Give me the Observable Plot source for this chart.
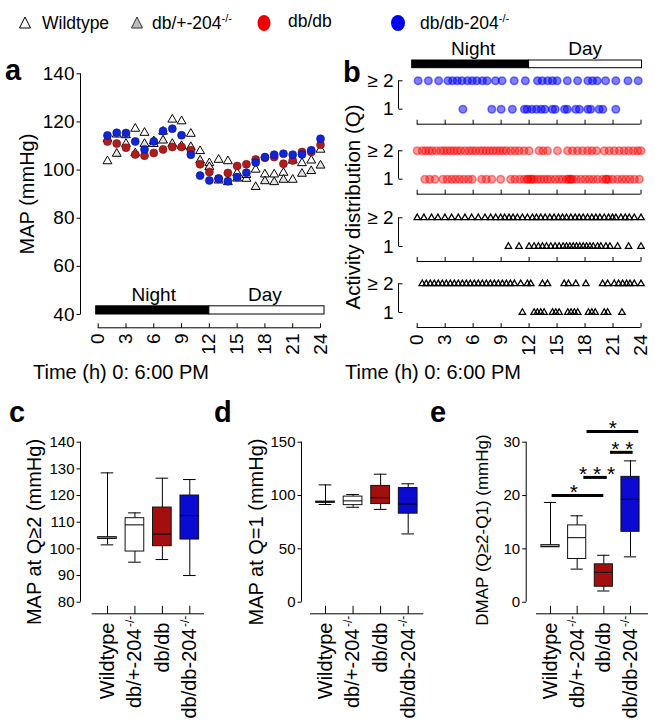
<!DOCTYPE html>
<html><head><meta charset="utf-8">
<script src="https://cdn.jsdelivr.net/npm/d3@7"></script>
<script src="https://cdn.jsdelivr.net/npm/@observablehq/plot@0.6"></script>
<style>
body{margin:0;background:#fff;}
#page{position:relative;width:655px;height:723px;overflow:hidden;background:#fff;}
</style></head><body><div id="page"></div>
<script>
// ---------------- DATA ----------------
const groups = ["Wildtype", "db/+-204", "db/db", "db/db-204"];
const groupSup = ["", "-/-", "", "-/-"];
const groupIdx = [0, 1, 2, 3];

// Panel a: hourly MAP (mmHg)
const hours = [1,2,3,4,5,6,7,8,9,10,11,12,13,14,15,16,17,18,19,20,21,22,23,24];
const mapWT    = [103.7,114.8,110.9,117.2,115.5,110.9,116.0,121.0,120.3,115.1,107.9,102.9,104.3,103.7,98.8,96.4,100.2,98.2,98.2,98.9,96.0,102.9,104.0,108.5];
const mapDbp   = [113.0,106.8,114.5,107.0,110.9,112.0,112.3,110.9,110.0,109.6,104.0,101.3,95.7,95.0,96.5,98.0,93.0,95.4,95.0,96.0,104.0,98.5,99.6,101.9];
const mapDb    = [111.9,111.0,109.3,106.5,106.0,107.1,108.6,109.6,109.6,108.2,102.4,99.2,96.5,98.8,101.7,102.4,104.4,105.1,105.4,102.6,104.0,107.5,107.5,110.5];
const mapDb204 = [114.4,115.5,115.4,111.9,108.6,111.9,116.2,117.2,114.5,106.4,97.7,95.7,96.4,95.4,97.1,98.9,103.1,105.4,106.4,106.8,106.4,106.5,108.2,113.0];
const mapTicks = [40,60,80,100,120,140];
const timeTicks = [0,3,6,9,12,15,18,21,24];
const nightDay = [{label:"Night", start:0, end:12}, {label:"Day", start:12, end:24}];

// Panel b: times (h) of activity events, Q>=2 and Q=1
const actDb204Q2 = [0.1,1.2,2.3,3.3,3.8,4.3,4.8,5.4,5.9,6.4,7.0,7.5,8.4,9.1,10.4,11.6,12.9,13.4,14.0,14.5,15.0,16.1,17.2,18.3,18.8,19.3,20.2,21.3,22.6,23.7];
const actDb204Q1 = [4.9,8.0,9.0,10.2,11.5,11.8,12.3,12.8,13.3,13.7,14.5,14.8,15.8,16.1,17.0,17.4,18.3,18.6,19.5,19.9,21.3];
const actDbQ2 = [0.0,0.54,0.9,1.25,1.6,2.04,2.51,2.87,3.22,3.58,3.94,4.3,4.66,5.12,5.55,5.91,6.27,6.7,7.06,7.41,7.77,8.13,8.49,8.85,9.2,9.56,10.03,10.49,10.92,11.46,12.0,13.07,13.5,13.97,15.04,16.12,16.65,17.19,17.73,18.27,18.73,19.23,20.06,20.59,21.13,21.67,22.2,22.67,23.17,23.64,24.0];
const actDbQ1 = [0.82,1.33,1.9,2.76,3.22,3.69,4.12,4.55,5.01,5.48,5.91,6.91,7.41,7.99,8.95,10.03,10.49,11.0,11.46,11.82,11.9,12.18,12.3,12.54,12.89,13.25,13.61,13.97,14.33,14.8,15.22,15.58,16.01,16.2,16.37,16.5,16.66,17.08,17.55,18.02,18.45,18.88,19.34,19.88,20.24,20.3,20.52,20.95,21.49,21.96,22.39,22.82,23.28,23.82];
const actWtQ2 = [0.0,0.72,1.54,2.22,2.97,3.69,4.41,5.12,5.84,6.55,7.27,7.88,8.42,8.95,9.38,9.85,10.28,10.74,11.28,11.82,12.36,12.79,13.25,13.72,14.22,14.68,15.15,15.58,16.01,16.48,16.94,17.37,17.8,18.27,18.73,19.16,19.59,20.06,20.52,20.95,21.31,21.85,22.31,22.74,23.28,24.0];
const actWtQ1 = [9.78,10.92,12.0,12.54,13.0,13.43,13.86,14.33,14.79,15.22,15.65,16.01,16.37,16.73,17.08,17.44,17.8,18.16,18.52,18.88,19.34,19.7,20.24,20.67,21.49,22.67,24.0];
const actDbpQ2 = [0.54,0.97,1.4,1.83,2.26,2.69,3.12,3.55,3.98,4.41,4.84,5.27,5.69,6.12,6.55,6.98,7.41,7.84,8.27,8.7,9.13,9.56,9.99,10.42,11.1,11.82,12.18,13.43,13.97,15.76,16.22,17.01,18.09,19.88,20.42,21.13,21.6,22.03,22.46,22.82,23.28,24.0];
const actDbpQ1 = [11.28,12.54,12.89,13.25,13.61,14.51,14.86,15.22,16.15,16.5,16.86,17.22,18.37,18.73,19.09,20.06,20.42,21.96];

// Panel c: MAP at Q>=2
const cLow  = [101.5, 95.0, 96.0, 90.0];
const cQ1   = [103.8, 99.0, 101.0, 103.5];
const cMed  = [104.0, 109.0, 105.5, 112.5];
const cQ3   = [104.4, 111.5, 115.5, 120.0];
const cHigh = [128.5, 113.5, 126.5, 126.0];
const cTicks = [80,90,100,110,120,130,140];
// Panel d: MAP at Q=1
const dLow  = [91.6, 89.0, 87.0, 64.0];
const dQ1   = [93.3, 91.0, 92.0, 83.0];
const dMed  = [93.8, 95.0, 98.0, 92.0];
const dQ3   = [94.3, 99.0, 109.0, 107.0];
const dHigh = [110.0, 101.0, 120.0, 111.0];
const dTicks = [0,50,100,150];
// Panel e: DMAP (Q>=2 - Q1)
const eLow  = [10.5, 6.2, 2.1, 8.5];
const eQ1   = [10.3, 8.1, 2.9, 13.2];
const eMed  = [10.5, 12.1, 5.6, 19.3];
const eQ3   = [10.7, 14.4, 7.1, 23.5];
const eHigh = [18.7, 16.2, 8.8, 26.5];
const eTicks = [0,10,20,30];
// significance bars in panel e (x in group index units)
const sigY  = [20, 23.4, 28.1, 32];
const sigX1 = [0.06, 1.25, 2.25, 1.37];
const sigX2 = [2.0, 2.13, 3.1, 3.31];
const sigStarX = [0.88, 1.75, 2.69, 2.34];
const sigLabel = ["*", "* * *", "* *", "*"];

// ---------------- STYLE / HELPERS ----------------
const FONT = "'Liberation Sans', Arial, Helvetica, sans-serif";
const RED_A = "#b01c1c", BLUE_A = "#1025d4";
const boxFill = ["white", "white", "#a30f0f", "#0a0ad2"];
const page = document.getElementById("page");

function lin(d0, d1, r0, r1) { return {type: "linear", domain: [d0, d1], range: [r0, r1], axis: null}; }
function inv(s, p) { return s.domain[0] + (p - s.range[0]) * (s.domain[1] - s.domain[0]) / (s.range[1] - s.range[0]); }
const seg = (dx, dy) => ({draw(ctx) { ctx.moveTo(0, 0); ctx.lineTo(dx, dy); }});
const TICK = {fill: "none", stroke: "black", strokeWidth: 1, r: 3};

function mount(opts) {
  const svg = Plot.plot({width: 655, height: 723, marginTop: 0, marginRight: 0, marginBottom: 0, marginLeft: 0,
    style: {background: "transparent", fontFamily: FONT, overflow: "visible"}, ...opts});
  svg.style.position = "absolute"; svg.style.left = "0px"; svg.style.top = "0px";
  page.appendChild(svg);
}

function yAxis(xs, ys, ticks, axisPx, len, fontSize) {
  const ax = inv(xs, axisPx);
  return [
    Plot.ruleX([ax], {y1: ys.domain[0], y2: ys.domain[1], stroke: "black"}),
    Plot.dot(ticks, {x: ax, y: d => d, symbol: seg(-len, 0), ...TICK}),
    Plot.text(ticks, {x: ax, y: d => d, text: d => String(d), dx: -(len + 2), textAnchor: "end", fontSize})
  ];
}

// ---------------- PANEL a ----------------
{
  const x = lin(0, 24, 97.7, 320), y = lin(40, 140, 314, 73.3);
  mount({x, y, marks: [
    ...yAxis(x, y, mapTicks, 80, 4, 19),
    Plot.ruleY([40], {x1: 0, x2: 24, dy: 13.3, stroke: "black"}),
    Plot.dot(timeTicks, {x: d => d, y: 40, dy: 13.3, symbol: seg(0, -4.5), ...TICK}),
    Plot.text(timeTicks, {x: d => d, y: 40, dy: 19, rotate: -90, textAnchor: "end", text: d => String(d), fontSize: 19}),
    Plot.rect([nightDay[0]], {x1: "start", x2: "end", y1: 40, y2: 43.4, fill: "black", stroke: "black", insetLeft: -2}),
    Plot.rect([nightDay[1]], {x1: "start", x2: "end", y1: 40, y2: 43.4, fill: "white", stroke: "black", insetRight: -4}),
    Plot.text(nightDay, {x: d => (d.start + d.end) / 2, y: 43.4, dy: -11, text: "label", fontSize: 19}),
    Plot.dot(hours, {x: d => d, y: (d, i) => mapWT[i], symbol: "triangle", r: 3.3, fill: "white", stroke: "black", strokeWidth: 1}),
    Plot.dot(hours, {x: d => d, y: (d, i) => mapDbp[i], symbol: "triangle", r: 3.3, fill: "#e4e4e4", stroke: "black", strokeWidth: 1}),
    Plot.dot(hours, {x: d => d, y: (d, i) => mapDb[i], r: 4, fill: RED_A, stroke: "#7a0a0a", strokeWidth: 0.6}),
    Plot.dot(hours, {x: d => d, y: (d, i) => mapDb204[i], r: 4, fill: BLUE_A, stroke: "#0a1090", strokeWidth: 0.6})
  ]});
}

// ---------------- PANEL b ----------------
{
  const x = lin(0, 24, 416.7, 640.5);
  const yb = lin(0, 1, 67.7, 60);
  mount({x, y: yb, marks: [
    Plot.rect([nightDay[0]], {x1: "start", x2: "end", y1: 0, y2: 1, fill: "black", stroke: "black", insetLeft: -5}),
    Plot.rect([nightDay[1]], {x1: "start", x2: "end", y1: 0, y2: 1, fill: "white", stroke: "black", insetRight: -1}),
    Plot.text(nightDay, {x: d => (d.start + d.end) / 2, y: 1, dy: -11.5, text: "label", fontSize: 19})
  ]});
  const blueDot = {r: 3.8, fill: "#0000ff", fillOpacity: 0.5, stroke: "#0000ff", strokeOpacity: 0.5};
  const redDot = {r: 3.8, fill: "#ff0000", fillOpacity: 0.38, stroke: "#ff0000", strokeOpacity: 0.45};
  const triDot = {symbol: "triangle", r: 2.4, fill: "none", stroke: "black", strokeWidth: 1.25};
  const strips = [
    {rows: [80.3, 108.7], q2: actDb204Q2, q1: actDb204Q1, st: blueDot},
    {rows: [150.3, 178.7], q2: actDbQ2, q1: actDbQ1, st: redDot},
    {rows: [217.3, 246], q2: actWtQ2, q1: actWtQ1, st: triDot},
    {rows: [283.3, 312], q2: actDbpQ2, q1: actDbpQ1, st: triDot}
  ];
  strips.forEach((s, k) => {
    const y = lin(1, 2, s.rows[1], s.rows[0]);
    const ax = inv(x, 398);
    const marks = [
      Plot.ruleX([ax], {y1: 1, y2: 2, stroke: "black"}),
      Plot.dot([1, 2], {x: ax, y: d => d, symbol: seg(4, 0), ...TICK}),
      Plot.text([2, 1], {x: ax, y: d => d, text: d => d === 2 ? "\u2265 2" : "1", dx: -5, textAnchor: "end", fontSize: 19}),
      Plot.ruleY([1], {x1: 0, x2: 24, dy: 15, stroke: "black"}),
      Plot.dot(timeTicks, {x: d => d, y: 1, dy: 15, symbol: seg(0, -4.5), ...TICK}),
      Plot.dot(s.q2, {x: d => d, y: 2, ...s.st}),
      Plot.dot(s.q1, {x: d => d, y: 1, ...s.st})
    ];
    if (k === strips.length - 1) marks.push(Plot.text(timeTicks, {x: d => d, y: 1, dy: 22, rotate: -90, textAnchor: "end", text: d => String(d), fontSize: 19}));
    mount({x, y, marks});
  });
}

// ---------------- PANELS c, d, e ----------------
function boxPanel(x, y, low, q1, med, q3, high, ticks, axisPx, baseX1, baseX2, extra = []) {
  const bw = 0.34, cw = 0.23, base = y.domain[0];
  mount({x, y, marks: [
    ...yAxis(x, y, ticks, axisPx, 4, 15),
    Plot.ruleY([base], {x1: inv(x, baseX1), x2: inv(x, baseX2), dy: 11.6, stroke: "black"}),
    Plot.dot(groupIdx, {x: i => i, y: base, dy: 11.6, symbol: seg(0, -8), ...TICK}),
    Plot.text(groupIdx, {x: i => i, y: base, text: i => groups[i], filter: i => !groupSup[i], rotate: -90, textAnchor: "end", fontSize: 20, dy: 20.3}),
    Plot.text(groupIdx, {x: i => i, y: base, text: i => groups[i], filter: i => groupSup[i], rotate: -90, textAnchor: "end", fontSize: 20, dy: 26.3}),
    Plot.text(groupIdx, {x: i => i, y: base, text: i => groupSup[i], filter: i => groupSup[i], rotate: -90, textAnchor: "end", fontSize: 12, dy: 13.5, dx: -5}),
    Plot.ruleX(groupIdx, {x: i => i, y1: i => low[i], y2: i => high[i], stroke: "black"}),
    Plot.ruleY(groupIdx, {x1: i => i - cw, x2: i => i + cw, y: i => high[i], stroke: "black"}),
    Plot.ruleY(groupIdx, {x1: i => i - cw, x2: i => i + cw, y: i => low[i], stroke: "black"}),
    Plot.rect(groupIdx, {x1: i => i - bw, x2: i => i + bw, y1: i => q1[i], y2: i => q3[i], fill: i => boxFill[i], stroke: "#111", strokeWidth: 1}),
    Plot.ruleY(groupIdx, {x1: i => i - bw, x2: i => i + bw, y: i => med[i], stroke: "black"}),
    ...extra
  ]});
}
boxPanel(lin(0, 3, 107, 189.3), lin(80, 140, 601.7, 441.7), cLow, cQ1, cMed, cQ3, cHigh, cTicks, 80, 91.7, 204);
boxPanel(lin(0, 3, 325, 407.7), lin(0, 150, 601.7, 441.7), dLow, dQ1, dMed, dQ3, dHigh, dTicks, 301, 310, 423.3);
boxPanel(lin(0, 3, 550, 630), lin(0, 30, 601.7, 441.7), eLow, eQ1, eMed, eQ3, eHigh, eTicks, 525.7, 536, 648, [
  Plot.ruleY(groupIdx, {x1: i => sigX1[i], x2: i => sigX2[i], y: i => sigY[i], stroke: "black", strokeWidth: 3}),
  Plot.text(groupIdx, {x: i => sigStarX[i], y: i => sigY[i], text: i => sigLabel[i], dy: -3, fontSize: 21})
]);

// ---------------- ANNOTATIONS (letters, titles, legend) ----------------
const ann = d3.select(page).append("svg").attr("width", 655).attr("height", 723)
  .style("position", "absolute").style("left", "0px").style("top", "0px").style("font-family", FONT);
const letters = [["a", 5, 80], ["b", 343, 82], ["c", 9, 422], ["d", 214, 422], ["e", 430, 422]];
letters.forEach(([t, x, y]) => ann.append("text").attr("x", x).attr("y", y).attr("font-size", 29).attr("font-weight", "bold").text(t));
const titles = [["MAP (mmHg)", 27, 194, 20], ["Activity distribution (Q)", 352, 207, 20.5],
  ["MAP at Q\u22652 (mmHg)", 34, 532, 20], ["MAP at Q=1 (mmHg)", 256, 532, 20], ["DMAP (Q\u22652-Q1) (mmHg)", 482, 530, 17]];
titles.forEach(([t, x, y, s]) => ann.append("text").attr("transform", `translate(${x},${y}) rotate(-90)`)
  .attr("text-anchor", "middle").attr("dominant-baseline", "central").attr("font-size", s).text(t));
[33, 345].forEach(x => ann.append("text").attr("x", x).attr("y", 379).attr("font-size", 20).text("Time (h) 0: 6:00 PM"));

// legend
const leg = ann.append("g");
leg.append("path").attr("d", "M25,17L30.5,28L19.5,28Z").attr("fill", "white").attr("stroke", "black");
leg.append("path").attr("d", "M137,17L142.5,28L131.5,28Z").attr("fill", "#bdbdbd").attr("stroke", "#333");
leg.append("ellipse").attr("cx", 264).attr("cy", 23).attr("rx", 6.5).attr("ry", 8).attr("fill", "#f00000");
leg.append("ellipse").attr("cx", 398).attr("cy", 23).attr("rx", 7).attr("ry", 8).attr("fill", "#0000f0");
const legendItems = [[groups[0], groupSup[0], 42, 29], [groups[1], groupSup[1], 152, 29], [groups[2], groupSup[2], 288, 27], [groups[3], groupSup[3], 420, 29]];
legendItems.forEach(([t, s, x, y]) => {
  const el = leg.append("text").attr("x", x).attr("y", y).attr("font-size", 17.5);
  el.append("tspan").text(t);
  if (s) el.append("tspan").attr("font-size", 11).attr("dy", -7).text(s);
});
</script></body></html>
